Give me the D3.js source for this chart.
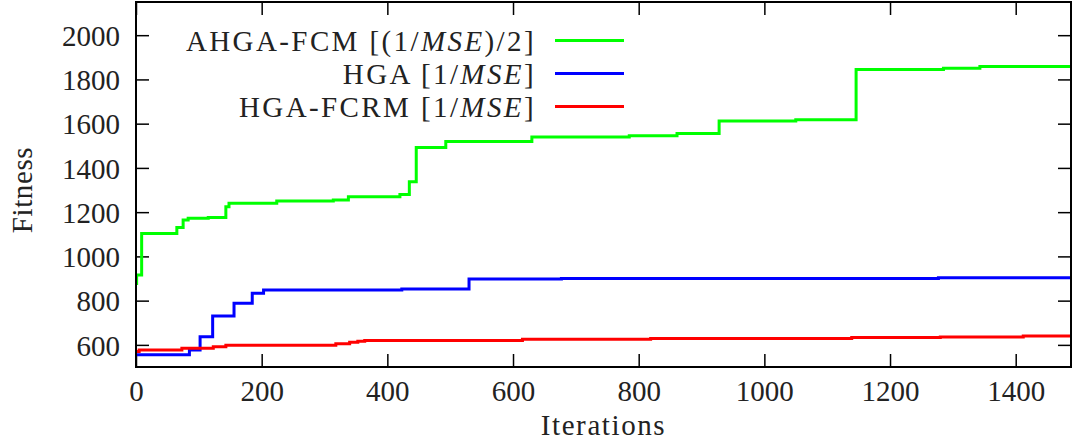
<!DOCTYPE html>
<html>
<head>
<meta charset="utf-8">
<script src="https://cdn.jsdelivr.net/npm/d3@7"></script>
<style>
  body { margin: 0; background: #fff; }
  svg text { font-family: "Liberation Serif", "DejaVu Serif", serif; fill: #222; }
  .axis path { display: none; }
  .axis line { stroke: #000; stroke-width: 1.5; }
</style>
</head>
<body>
<svg id="chart" width="1072" height="447"></svg>
<script>
// step data (iteration where each new value starts)
var ahgaIter = [0, 1, 9, 65, 75, 83, 115, 143, 148, 224, 314, 338, 420, 435, 446, 493, 630, 785, 861, 928, 1050, 1146, 1285, 1343, 1490];
var ahgaFit  = [878, 916, 1104, 1131, 1164, 1172, 1176, 1224, 1240, 1250, 1255, 1270, 1280, 1337, 1492, 1519, 1540, 1545, 1555, 1612, 1618, 1845, 1851, 1858, 1858];

var hgaIter = [0, 85, 102, 122, 156, 185, 203, 423, 530, 677, 1277, 1490];
var hgaFit  = [555, 577, 637, 731, 788, 833, 848, 853, 898, 900, 903, 903];

var fcrmIter = [0, 5, 73, 123, 143, 318, 340, 353, 364, 615, 819, 1139, 1280, 1412, 1490];
var fcrmFit  = [570, 577, 585, 591, 598, 605, 612, 616, 620, 625, 629, 633, 636, 640, 640];

var xTicks = [0, 200, 400, 600, 800, 1000, 1200, 1400];
var yTicks = [600, 800, 1000, 1200, 1400, 1600, 1800, 2000];

var series = [
    {name: "AHGA-FCM", label: ["AHGA-FCM [(1/", "MSE", ")/2]"], iter: ahgaIter, fit: ahgaFit, color: "#00ff00"},
    {name: "HGA", label: ["HGA [1/", "MSE", "]"], iter: hgaIter, fit: hgaFit, color: "#0000ff"},
    {name: "HGA-FCRM", label: ["HGA-FCRM [1/", "MSE", "]"], iter: fcrmIter, fit: fcrmFit, color: "#ff0000"}
];

var pLeft = 136, pRight = 1071, pTop = 2, pBottom = 367;

var svg = d3.select("#chart");

var x = d3.scaleLinear().domain([0, 1488]).range([pLeft, pRight]);
var y = d3.scaleLinear().domain([500, 2150]).range([pBottom, pTop]);

svg.append("clipPath").attr("id", "clip")
    .append("rect")
    .attr("x", pLeft).attr("y", pTop)
    .attr("width", pRight - pLeft).attr("height", pBottom - pTop);

// inward ticks on all four sides
var ax = svg.append("g").attr("class", "axis").attr("transform", "translate(0," + pBottom + ")")
    .call(d3.axisBottom(x).tickValues(xTicks).tickSize(-13).tickPadding(24).tickFormat(d3.format("d")));
ax.selectAll("text").attr("font-size", "29px").attr("dy", "0.35em");

svg.append("g").attr("class", "axis").attr("transform", "translate(0," + pTop + ")")
    .call(d3.axisTop(x).tickValues(xTicks).tickSize(-13).tickFormat(""));

var ay = svg.append("g").attr("class", "axis").attr("transform", "translate(" + pLeft + ",0)")
    .call(d3.axisLeft(y).tickValues(yTicks).tickSize(-13).tickPadding(16).tickFormat(d3.format("d")));
ay.selectAll("text").attr("font-size", "29px").attr("dy", "0.35em");

svg.append("g").attr("class", "axis").attr("transform", "translate(" + pRight + ",0)")
    .call(d3.axisRight(y).tickValues(yTicks).tickSize(-13).tickFormat(""));

var line = d3.line()
    .x(function(d) { return x(d[0]); })
    .y(function(d) { return y(d[1]); })
    .curve(d3.curveStepAfter);

svg.append("g").attr("clip-path", "url(#clip)")
    .selectAll("path")
    .data(series)
    .enter().append("path")
    .attr("d", function(s) { return line(d3.zip(s.iter, s.fit)); })
    .attr("fill", "none")
    .attr("stroke", function(s) { return s.color; })
    .attr("stroke-width", 3)
    .attr("stroke-linejoin", "miter");

// frame
svg.append("rect")
    .attr("x", pLeft).attr("y", pTop)
    .attr("width", pRight - pLeft).attr("height", pBottom - pTop)
    .attr("fill", "none").attr("stroke", "#000").attr("stroke-width", 2);

// legend
var legend = svg.selectAll(".legend")
    .data(series)
    .enter().append("g")
    .attr("class", "legend")
    .attr("transform", function(d, i) { return "translate(0," + (40.5 + i * 33) + ")"; });

var lt = legend.append("text")
    .attr("x", 536)
    .attr("dy", "0.35em")
    .attr("text-anchor", "end")
    .attr("font-size", "29px")
    .attr("letter-spacing", "2.4px");
lt.append("tspan").text(function(d) { return d.label[0]; });
lt.append("tspan").attr("font-style", "italic").text(function(d) { return d.label[1]; });
lt.append("tspan").text(function(d) { return d.label[2]; });

legend.append("line")
    .attr("x1", 555).attr("x2", 624)
    .attr("stroke", function(d) { return d.color; })
    .attr("stroke-width", 3);

// axis titles
svg.append("text")
    .attr("x", (pLeft + pRight) / 2)
    .attr("y", 435)
    .attr("text-anchor", "middle")
    .attr("font-size", "29px")
    .attr("letter-spacing", "1.6px")
    .text("Iterations");

svg.append("text")
    .attr("transform", "translate(32,190) rotate(-90)")
    .attr("text-anchor", "middle")
    .attr("font-size", "29px")
    .attr("letter-spacing", "0.6px")
    .text("Fitness");
</script>
</body>
</html>
